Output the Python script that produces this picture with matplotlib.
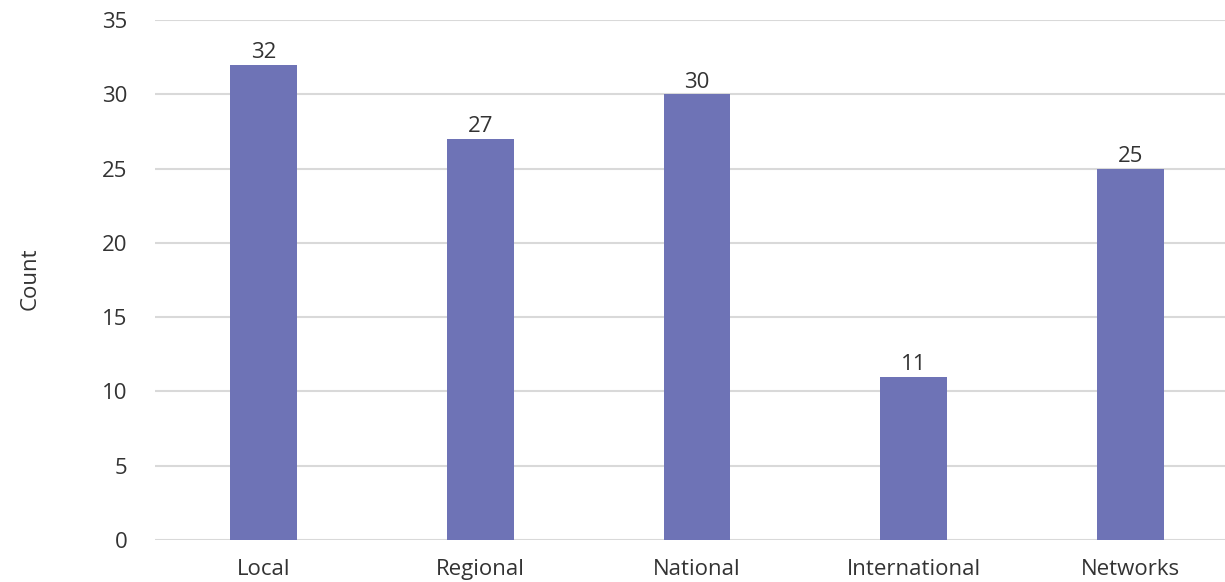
import numpy as np
import matplotlib.pyplot as plt

plt.rcParams['font.family'] = ['Open Sans', 'DejaVu Sans']

categories = ['Local', 'Regional', 'National', 'International', 'Networks']
counts = [32, 27, 30, 11, 25]

bar_color = '#6E73B6'
text_color = '#333333'

fig = plt.figure(figsize=(12.25, 5.82), dpi=100)
ax = fig.add_axes([155 / 1225, 42 / 582, 1084 / 1225, 520 / 582])

x = np.arange(len(categories))
bars = ax.bar(x, counts, width=0.308, color=bar_color, zorder=3)

for xi, v in zip(x, counts):
    ax.text(xi, v + 0.1, str(v), ha='center', va='bottom', fontsize=16, color=text_color)

ax.set_xlim(-0.5, len(categories) - 0.5)
ax.set_ylim(0, 35)
ax.set_yticks(np.arange(0, 36, 5))
ax.set_xticks(x)
ax.set_xticklabels(categories)
ax.grid(axis='y', color='#D9D9D9', linewidth=1.5, zorder=0)
ax.tick_params(axis='both', length=0, labelsize=16, colors=text_color)
ax.tick_params(axis='y', pad=20)
ax.tick_params(axis='x', pad=14)
for s in ax.spines.values():
    s.set_visible(False)

fig.text(30 / 1225, 1 - 279 / 582, 'Count', rotation=90, ha='center', va='center',
         fontsize=16, color=text_color)

fig.savefig('out.png', dpi=100)
